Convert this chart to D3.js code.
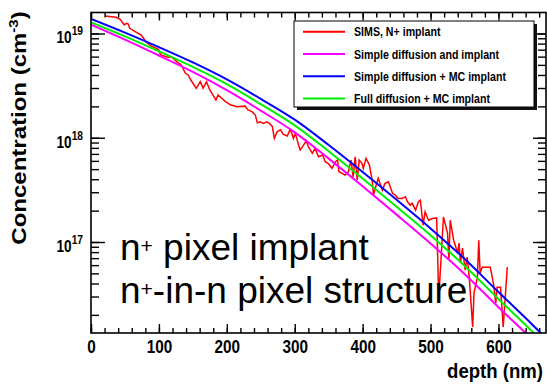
<!DOCTYPE html>
<html>
<head>
<meta charset="utf-8">
<script src="https://cdn.jsdelivr.net/npm/d3@7"></script>
<style>
  body { margin: 0; background: #fff; }
  svg { display: block; font-family: "Liberation Sans", Arial, sans-serif; }
</style>
</head>
<body>
<svg id="chart" width="547" height="385"></svg>
<script>
// model curves
const modelDepth = [0, 50, 100, 150, 200, 250, 300, 350, 400, 450, 500, 550, 600, 650, 700];
const simpleImplant = [1.216e19, 8.73e18, 6.15e18, 4.28e18, 2.86e18, 1.82e18, 1.127e18, 6.31e17, 3.43e17, 1.83e17, 9.68e16, 4.94e16, 2.37e16, 1.16e16, 5.4e15];
const simpleMC = [1.38e19, 1.02e19, 7.40e18, 5.28e18, 3.63e18, 2.36e18, 1.49e18, 8.51e17, 4.69e17, 2.54e17, 1.35e17, 6.90e16, 3.31e16, 1.61e16, 7.5e15];
const fullMC = [1.28e19, 9.40e18, 6.75e18, 4.78e18, 3.26e18, 2.10e18, 1.315e18, 7.43e17, 4.06e17, 2.18e17, 1.16e17, 5.92e16, 2.84e16, 1.38e16, 6.5e15];

// SIMS measurement
const simsDepth = [21, 30, 37, 43, 49, 52, 55, 57, 65, 74, 81, 88, 99, 103, 113, 118, 128, 133, 139, 143,
  147, 155, 161, 165, 170, 175, 184, 187, 198, 206, 215, 227, 231, 237, 242, 245, 249, 254, 259, 264,
  267, 270, 274, 279, 283, 289, 293, 296, 298, 301, 305, 308, 313, 317, 320, 326, 330, 335, 341, 345,
  349, 355, 360, 363, 365, 370, 374, 379, 383, 386, 389, 392, 395, 399, 401, 405, 410, 414, 416, 420,
  423, 429, 433, 438, 444, 448, 452, 458, 463, 466, 470, 473, 478, 482, 485, 489, 492, 497, 503, 509,
  512, 516, 519, 525, 527, 529, 534, 540, 542, 544, 547, 551, 554, 557, 562, 564, 569, 571, 573, 576,
  584, 588, 593, 596, 598, 603, 607, 610, 613];
const simsConc = [1.47e19, 1.45e19, 1.43e19, 1.37e19, 1.21e19, 1.25e19, 1.23e19, 1.12e19, 1.04e19, 9.68e18,
  8.34e18, 7.59e18, 7.05e18, 6.22e18, 5.91e18, 5.99e18, 5.25e18, 4.99e18, 4.15e18, 4.00e18,
  3.58e18, 2.98e18, 3.45e18, 2.98e18, 3.45e18, 2.87e18, 2.30e18, 2.57e18, 2.22e18, 2.06e18,
  1.98e18, 2.01e18, 1.85e18, 1.78e18, 1.65e18, 1.39e18, 1.42e18, 1.37e18, 1.42e18, 1.35e18,
  1.28e18, 9.87e17, 1.14e18, 1.19e18, 1.085e18, 1.04e18, 1.19e18, 1.10e18, 9.87e17, 1.10e18,
  8.84e17, 7.62e17, 8.51e17, 9.36e17, 8.20e17, 7.09e17, 7.91e17, 6.57e17, 6.82e17, 5.89e17,
  5.68e17, 5.09e17, 5.89e17, 6.11e17, 4.72e17, 4.55e17, 4.39e17, 4.72e17, 6.11e17, 4.22e17,
  6.57e17, 3.93e17, 6.11e17, 5.68e17, 5.09e17, 6.34e17, 5.47e17, 3.93e17, 2.82e17, 3.52e17,
  4.08e17, 3.15e17, 3.65e17, 3.78e17, 2.93e17, 2.82e17, 2.62e17, 2.62e17, 2.72e17, 2.43e17,
  2.26e17, 2.35e17, 2.02e17, 2.43e17, 2.52e17, 1.45e17, 1.95e17, 1.62e17, 1.68e17, 1.70e17,
  2.96e16, 7.83e16, 1.74e17, 1.22e17, 6.71e16, 1.62e17, 1.04e17, 7.83e16, 9.76e16, 6.28e16,
  8.74e16, 5.37e16, 7.16e16, 4.60e16, 1.53e16, 3.23e16, 4.60e16, 1.04e17, 5.03e16, 5.74e16,
  5.74e16, 5.74e16, 3.86e16, 2.59e16, 3.69e16, 3.69e16, 1.53e16, 2.96e16, 5.74e16];

const legendLabels = ["SIMS, N+ implant", "Simple diffusion and implant", "Simple diffusion + MC implant", "Full diffusion + MC implant"];
const xTickValues = [0, 100, 200, 300, 400, 500, 600];
const yTickExps = [17, 18, 19];

const svg = d3.select("#chart");
const plotLeft = 91, plotRight = 546, plotTop = 12.5, plotBottom = 333;
const squeeze = 0.85; // picture is a bit narrower than the fonts

const x = d3.scaleLinear().domain([0, 670]).range([plotLeft, plotRight]);
const y = d3.scaleLog().domain([1.34e16, 1.59e19]).range([plotBottom, plotTop]);

svg.append("clipPath").attr("id", "plot")
  .append("rect").attr("x", plotLeft).attr("y", plotTop)
  .attr("width", plotRight - plotLeft).attr("height", plotBottom - plotTop);

const plot = svg.append("g").attr("clip-path", "url(#plot)");

const line = d3.line().x(d => x(d[0])).y(d => y(d[1]));
const smooth = d3.line().x(d => x(d[0])).y(d => y(d[1])).curve(d3.curveMonotoneX);

plot.append("path")
  .datum(simsDepth.map((d, i) => [d, simsConc[i]]))
  .attr("d", line).attr("fill", "none").attr("stroke", "#ff0000").attr("stroke-width", 1.5);

const models = [
  { values: simpleImplant, color: "#ff00ff" },
  { values: simpleMC, color: "#0000ff" },
  { values: fullMC, color: "#00ee00" },
];
models.forEach(m => {
  plot.append("path")
    .datum(modelDepth.map((d, i) => [d, m.values[i]]))
    .attr("d", smooth).attr("fill", "none").attr("stroke", m.color).attr("stroke-width", 2);
});

// ticks on all four sides, pointing inward
const xMinor = d3.range(0, 671, 20);
const yMinor = [];
for (let e = 16; e <= 19; e++) {
  for (let k = 1; k <= 9; k++) {
    const v = k * Math.pow(10, e);
    if (v >= 1.34e16 && v <= 1.59e19) yMinor.push(v);
  }
}
const yMajor = yTickExps.map(e => Math.pow(10, e));

function tickGroup(axis, tx, ty) {
  const g = svg.append("g").attr("transform", `translate(${tx},${ty})`).call(axis);
  g.select(".domain").remove();
  g.selectAll("line").attr("stroke", "#000").attr("stroke-width", 1.4);
  return g;
}

tickGroup(d3.axisBottom(x).tickValues(xMinor).tickSize(-5).tickFormat(""), 0, plotBottom);
tickGroup(d3.axisTop(x).tickValues(xMinor).tickSize(-5).tickFormat(""), 0, plotTop);
tickGroup(d3.axisTop(x).tickValues(xTickValues).tickSize(-8).tickFormat(""), 0, plotTop);
const xAxis = tickGroup(d3.axisBottom(x).tickValues(xTickValues).tickSize(-9).tickPadding(7), 0, plotBottom);
xAxis.selectAll("text")
  .attr("font-size", 18).attr("font-weight", "bold").attr("fill", "#000")
  .attr("font-family", "Liberation Sans, Arial, sans-serif")
  .attr("transform", `scale(${squeeze},1)`);

tickGroup(d3.axisLeft(y).tickValues(yMinor).tickSize(-8).tickFormat(""), plotLeft, 0);
tickGroup(d3.axisLeft(y).tickValues(yMajor).tickSize(-14).tickFormat(""), plotLeft, 0);
tickGroup(d3.axisRight(y).tickValues(yMinor).tickSize(-8).tickFormat(""), plotRight, 0);
tickGroup(d3.axisRight(y).tickValues(yMajor).tickSize(-13).tickFormat(""), plotRight, 0);

// frame
svg.append("rect")
  .attr("x", plotLeft).attr("y", plotTop)
  .attr("width", plotRight - plotLeft).attr("height", plotBottom - plotTop)
  .attr("fill", "none").attr("stroke", "#000").attr("stroke-width", 1.6);

// y tick labels 10^n
yTickExps.forEach(e => {
  const t = svg.append("text")
    .attr("transform", `translate(83,${y(Math.pow(10, e)) + 10}) scale(${squeeze},1)`)
    .attr("text-anchor", "end").attr("font-weight", "bold");
  t.append("tspan").attr("font-size", 16).text("10");
  t.append("tspan").attr("font-size", 12).attr("dy", -8).text(e);
});

// axis titles
const yTitle = svg.append("text")
  .attr("transform", `translate(26,128) scale(${squeeze},1) rotate(-90)`)
  .attr("text-anchor", "middle").attr("font-size", 24).attr("font-weight", "bold");
yTitle.append("tspan").text("Concentration (cm");
yTitle.append("tspan").attr("font-size", 15).attr("dy", -9).text("-3");
yTitle.append("tspan").attr("dy", 9).text(")");

svg.append("text")
  .attr("transform", `translate(543,378) scale(0.885,1)`)
  .attr("text-anchor", "end").attr("font-size", 21).attr("font-weight", "bold")
  .text("depth (nm)");

// legend
const lg = svg.append("g");
lg.append("rect").attr("x", 297).attr("y", 24).attr("width", 240).attr("height", 86).attr("fill", "#111");
lg.append("rect").attr("x", 294).attr("y", 21).attr("width", 240).attr("height", 86)
  .attr("fill", "#fff").attr("stroke", "#000").attr("stroke-width", 1);
const legendColors = ["#ff0000", "#ff00ff", "#0000ff", "#00ee00"];
legendLabels.forEach((name, i) => {
  const ly = 31.7 + i * 22.3;
  lg.append("line").attr("x1", 303).attr("x2", 345).attr("y1", ly).attr("y2", ly)
    .attr("stroke", legendColors[i]).attr("stroke-width", 2);
  lg.append("text")
    .attr("transform", `translate(354,${ly + 4.5}) scale(0.85,1)`)
    .attr("font-size", 12.5).attr("font-weight", "bold").text(name);
});

// annotation
const note = [["n", "+", " pixel implant"], ["n", "+", "-in-n pixel structure"]];
note.forEach((parts, i) => {
  const t = svg.append("text").attr("x", 120).attr("y", 260 + i * 43).attr("font-size", 37);
  t.append("tspan").text(parts[0]);
  t.append("tspan").attr("font-size", 21).attr("dy", -7).text(parts[1]);
  t.append("tspan").attr("dy", 7).text(parts[2]);
});
</script>
</body>
</html>
